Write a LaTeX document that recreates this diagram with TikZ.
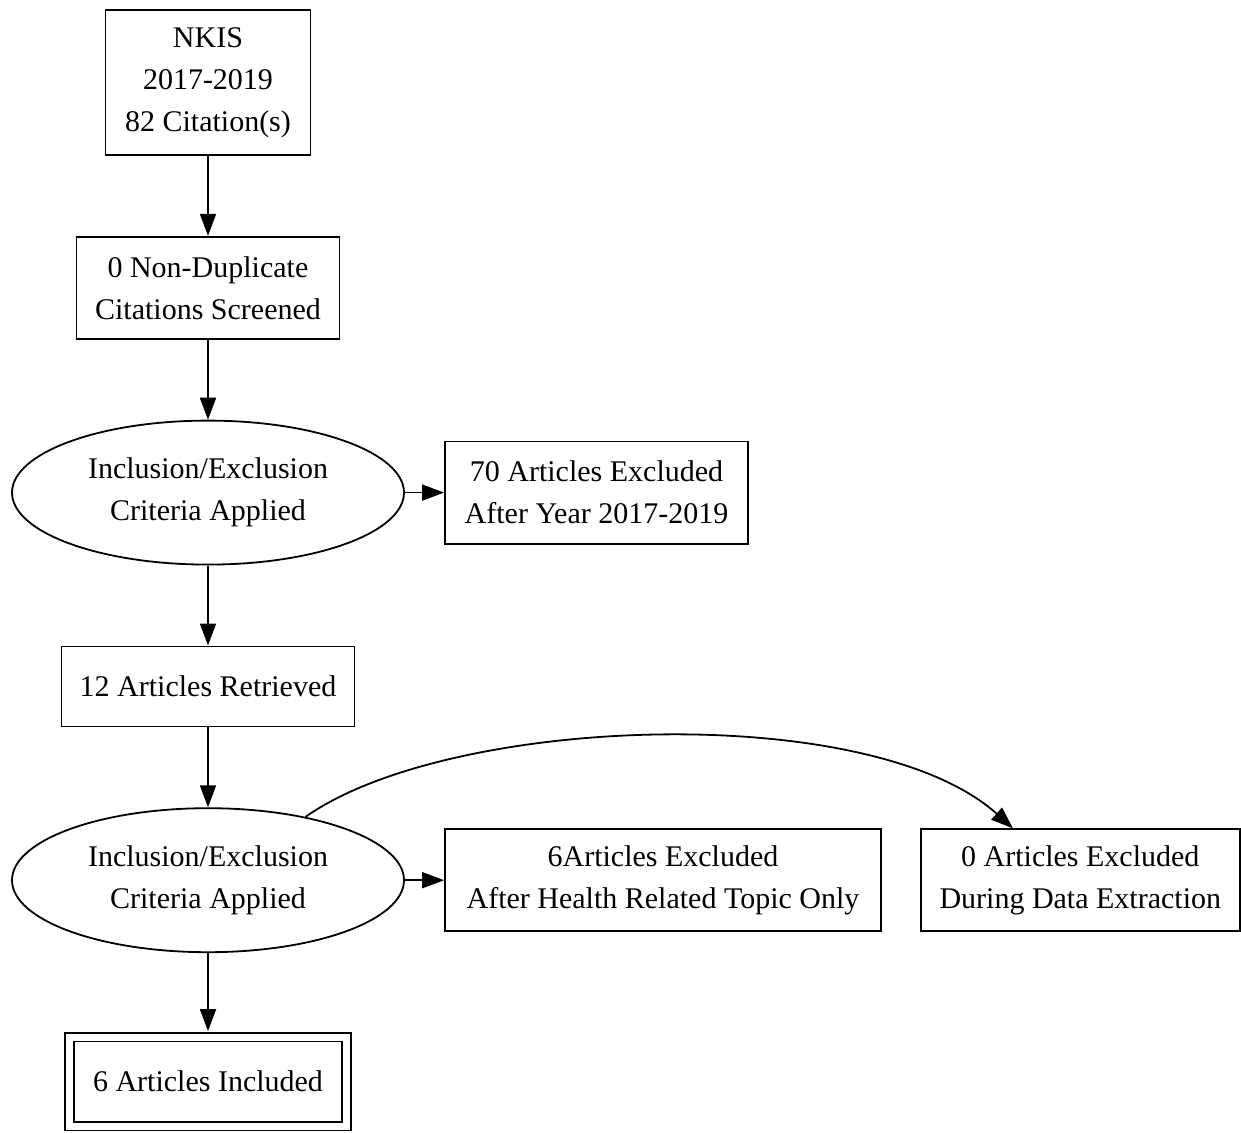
\documentclass[tikz,border=0pt]{standalone}
\usepackage{fontspec}
\setmainfont{Liberation Serif}
\usetikzlibrary{positioning,arrows.meta,calc,shapes.geometric}

\begin{document}
\begin{tikzpicture}[
    x=0.5pt, y=-0.5pt,
    node distance=40pt and 19.6pt,
    box/.style={draw, rectangle, line width=0.9pt, inner sep=0pt, align=center, font=\fontsize{15}{21}\selectfont},
    oval/.style={draw, ellipse, line width=0.9pt, inner sep=0pt, align=center, minimum width=196pt, minimum height=72pt, font=\fontsize{15}{21}\selectfont},
    flow/.style={-{Triangle[length=11pt, width=8pt]}, line width=0.9pt}
]
\useasboundingbox (0,0) rectangle (1241,1133);

% main column
\node[box, minimum width=102.5pt, minimum height=72.5pt] (nkis) at (208,82.5) {NKIS\\2017-2019\\82 Citation(s)};
\node[box, below=of nkis, minimum width=131.5pt, minimum height=51pt] (nondup) {0 Non-Duplicate\\Citations Screened};
\node[oval, below=of nondup] (crit1) {Inclusion/Exclusion\\Criteria Applied};
\node[box, below=of crit1, minimum width=146.5pt, minimum height=40pt] (retrieved) {12 Articles Retrieved};
\node[oval, below=of retrieved] (crit2) {Inclusion/Exclusion\\Criteria Applied};
\node[box, below=41.5pt of crit2, minimum width=138.5pt, minimum height=44.5pt, double, double distance=3.5pt] (included) {6 Articles Included};

% exclusions
\node[box, right=of crit1, minimum width=151.5pt, minimum height=51pt] (excl70) {70 Articles Excluded\\After Year 2017-2019};
\node[box, right=of crit2, minimum width=218pt, minimum height=51pt] (excl6) {6Articles Excluded\\After Health Related Topic Only};
\node[box, right=19pt of excl6, minimum width=159.5pt, minimum height=51pt] (excl0) {0 Articles Excluded\\During Data Extraction};

\draw[flow] (nkis) -- (nondup);
\draw[flow] (nondup) -- (crit1);
\draw[flow] (crit1) -- (retrieved);
\draw[flow] (retrieved) -- (crit2);
\draw[flow, shorten >=2.5pt] (crit2) -- (included);
\draw[flow] (crit1) -- (excl70);
\draw[flow] (crit2) -- (excl6);
\draw[flow] (crit2.33) .. controls (450,715) and (870,700) .. ($(excl0.north west)!0.29!(excl0.north east)$);
\end{tikzpicture}
\end{document}
